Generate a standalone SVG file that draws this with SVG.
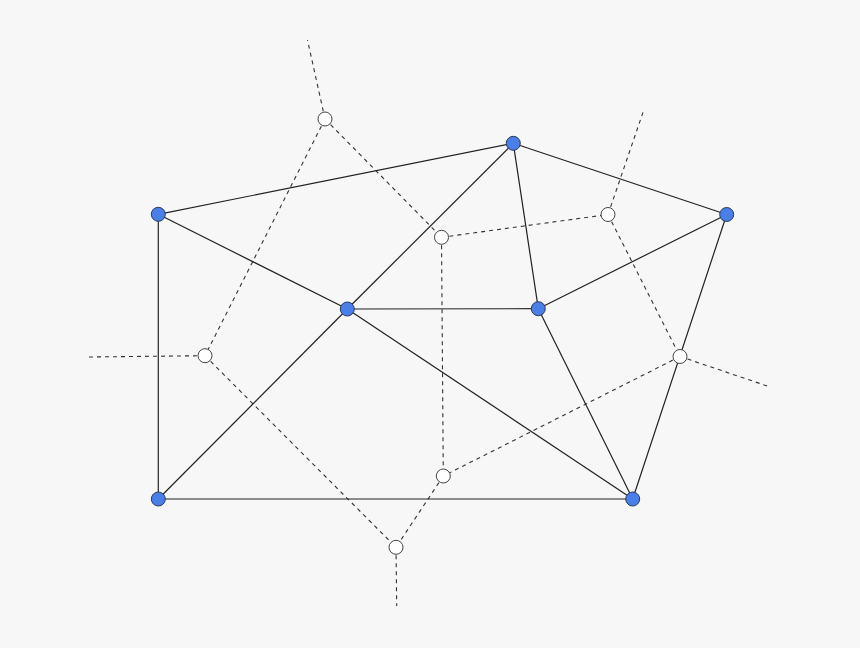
<svg xmlns="http://www.w3.org/2000/svg" width="860" height="648" viewBox="0 0 860 648">
<style>
.bg{fill:#f7f7f7}
.e{stroke:#222;stroke-width:1.2;fill:none}
.v{stroke:#333;stroke-width:1.1;stroke-dasharray:4 4;fill:none}
.site{fill:#4a7fe8;stroke:#2c3a5a;stroke-width:1}
.vert{fill:#ffffff;stroke:#444;stroke-width:1}
</style>
<rect class="bg" x="0" y="0" width="860" height="648"/>
<g id="voronoi-edges">
<line class="v" x1="325" y1="119" x2="307.5" y2="40"/>
<line class="v" x1="325" y1="119" x2="205" y2="355.7"/>
<line class="v" x1="325" y1="119" x2="441.5" y2="237.3"/>
<line class="v" x1="441.5" y1="237.3" x2="608" y2="214.5"/>
<line class="v" x1="441.5" y1="237.3" x2="443.3" y2="476"/>
<line class="v" x1="608" y1="214.5" x2="643.3" y2="111.5"/>
<line class="v" x1="608" y1="214.5" x2="680" y2="356.5"/>
<line class="v" x1="680" y1="356.5" x2="767.3" y2="386"/>
<line class="v" x1="680" y1="356.5" x2="443.3" y2="476"/>
<line class="v" x1="443.3" y1="476" x2="396" y2="547.3"/>
<line class="v" x1="205" y1="355.7" x2="396" y2="547.3"/>
<line class="v" x1="205" y1="355.7" x2="88.3" y2="357"/>
<line class="v" x1="396" y1="547.3" x2="396.7" y2="606"/>
</g>
<g id="delaunay-edges">
<line class="e" x1="158.3" y1="214.3" x2="513.3" y2="143.3"/>
<line class="e" x1="513.3" y1="143.3" x2="726.7" y2="214.5"/>
<line class="e" x1="158.3" y1="214.3" x2="347.3" y2="309"/>
<line class="e" x1="158.3" y1="214.3" x2="158.3" y2="499"/>
<line class="e" x1="513.3" y1="143.3" x2="347.3" y2="309"/>
<line class="e" x1="513.3" y1="143.3" x2="538.3" y2="308.7"/>
<line class="e" x1="726.7" y1="214.5" x2="538.3" y2="308.7"/>
<line class="e" x1="726.7" y1="214.5" x2="632.7" y2="499"/>
<line class="e" x1="347.3" y1="309" x2="538.3" y2="308.7"/>
<line class="e" x1="347.3" y1="309" x2="158.3" y2="499"/>
<line class="e" x1="347.3" y1="309" x2="632.7" y2="499"/>
<line class="e" x1="538.3" y1="308.7" x2="632.7" y2="499"/>
<line class="e" x1="158.3" y1="499" x2="632.7" y2="499"/>
</g>
<g id="V1"><circle class="vert" cx="325" cy="119" r="7"/></g>
<g id="V2"><circle class="vert" cx="441.5" cy="237.3" r="7"/></g>
<g id="V3"><circle class="vert" cx="608" cy="214.5" r="7"/></g>
<g id="V4"><circle class="vert" cx="205" cy="355.7" r="7"/></g>
<g id="V5"><circle class="vert" cx="680" cy="356.5" r="7"/></g>
<g id="V6"><circle class="vert" cx="443.3" cy="476" r="7"/></g>
<g id="V7"><circle class="vert" cx="396" cy="547.3" r="7"/></g>
<g id="A"><circle class="site" cx="158.3" cy="214.3" r="7"/></g>
<g id="B"><circle class="site" cx="513.3" cy="143.3" r="7"/></g>
<g id="C"><circle class="site" cx="726.7" cy="214.5" r="7"/></g>
<g id="D"><circle class="site" cx="347.3" cy="309" r="7"/></g>
<g id="E"><circle class="site" cx="538.3" cy="308.7" r="7"/></g>
<g id="F"><circle class="site" cx="158.3" cy="499" r="7"/></g>
<g id="G"><circle class="site" cx="632.7" cy="499" r="7"/></g>
</svg>
